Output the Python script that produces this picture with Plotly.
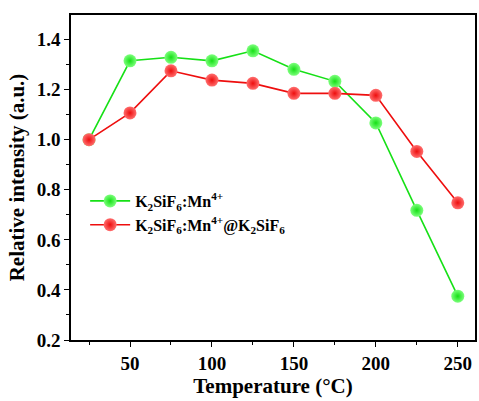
import plotly.graph_objects as go

temperature = [25, 50, 75, 100, 125, 150, 175, 200, 225, 250]
ksf_mn = [1.0, 1.315, 1.329, 1.315, 1.355, 1.281, 1.233, 1.067, 0.718, 0.375]
ksf_mn_core_shell = [1.0, 1.107, 1.275, 1.238, 1.225, 1.185, 1.185, 1.177, 0.953, 0.748]

series_names = ["K<sub>2</sub>SiF<sub>6</sub>:Mn<sup>4+</sup>",
                "K<sub>2</sub>SiF<sub>6</sub>:Mn<sup>4+</sup>@K<sub>2</sub>SiF<sub>6</sub>"]
x_ticks = [50, 100, 150, 200, 250]
y_ticks = [0.2, 0.4, 0.6, 0.8, 1.0, 1.2, 1.4]

font_family = "Liberation Serif, Times New Roman, serif"

fig = go.Figure()
for name, vals, col, center in [(series_names[0], ksf_mn, "#16e016", "#7dff7d"),
                                (series_names[1], ksf_mn_core_shell, "#ee0e0e", "#ff6e6e")]:
    fig.add_trace(go.Scatter(
        x=temperature, y=vals, name=name, mode="lines+markers",
        line=dict(color=col, width=1.6),
        marker=dict(size=13, color=center,
                    gradient=dict(type="radial", color=col),
                    line=dict(width=0)),
    ))

fig.update_layout(
    width=479, height=401,
    margin=dict(l=71, r=2, t=15, b=61),
    paper_bgcolor="white", plot_bgcolor="white",
    font=dict(family=font_family, color="black"),
    showlegend=True,
    legend=dict(x=0.035, y=0.48, xanchor="left", yanchor="top",
                bgcolor="rgba(0,0,0,0)",
                font=dict(size=16, family=font_family, color="black", weight="bold"),
                itemwidth=40, tracegroupgap=2),
    xaxis=dict(range=[14, 260.5], tickvals=x_ticks,
               ticks="outside", ticklen=5, tickwidth=1.2, tickcolor="black",
               showline=True, linecolor="black", linewidth=1.5, mirror=True,
               showgrid=False, zeroline=False,
               tickfont=dict(size=19, family=font_family, weight="bold"),
               minor=dict(dtick=50, tick0=25, ticks="outside", ticklen=3, tickcolor="black", showgrid=False),
               title=dict(text="Temperature (°C)", standoff=6,
                          font=dict(size=21, family=font_family, weight="bold"))),
    yaxis=dict(range=[0.2, 1.498], tickvals=y_ticks, tickformat=".1f",
               ticks="outside", ticklen=5, tickwidth=1.2, tickcolor="black",
               showline=True, linecolor="black", linewidth=1.5, mirror=True,
               showgrid=False, zeroline=False,
               tickfont=dict(size=19, family=font_family, weight="bold"),
               minor=dict(dtick=0.2, tick0=0.3, ticks="outside", ticklen=3, tickcolor="black", showgrid=False),
               title=dict(text="Relative intensity (a.u.)", standoff=6,
                          font=dict(size=21, family=font_family, weight="bold"))),
)

fig.write_html("out.html")
